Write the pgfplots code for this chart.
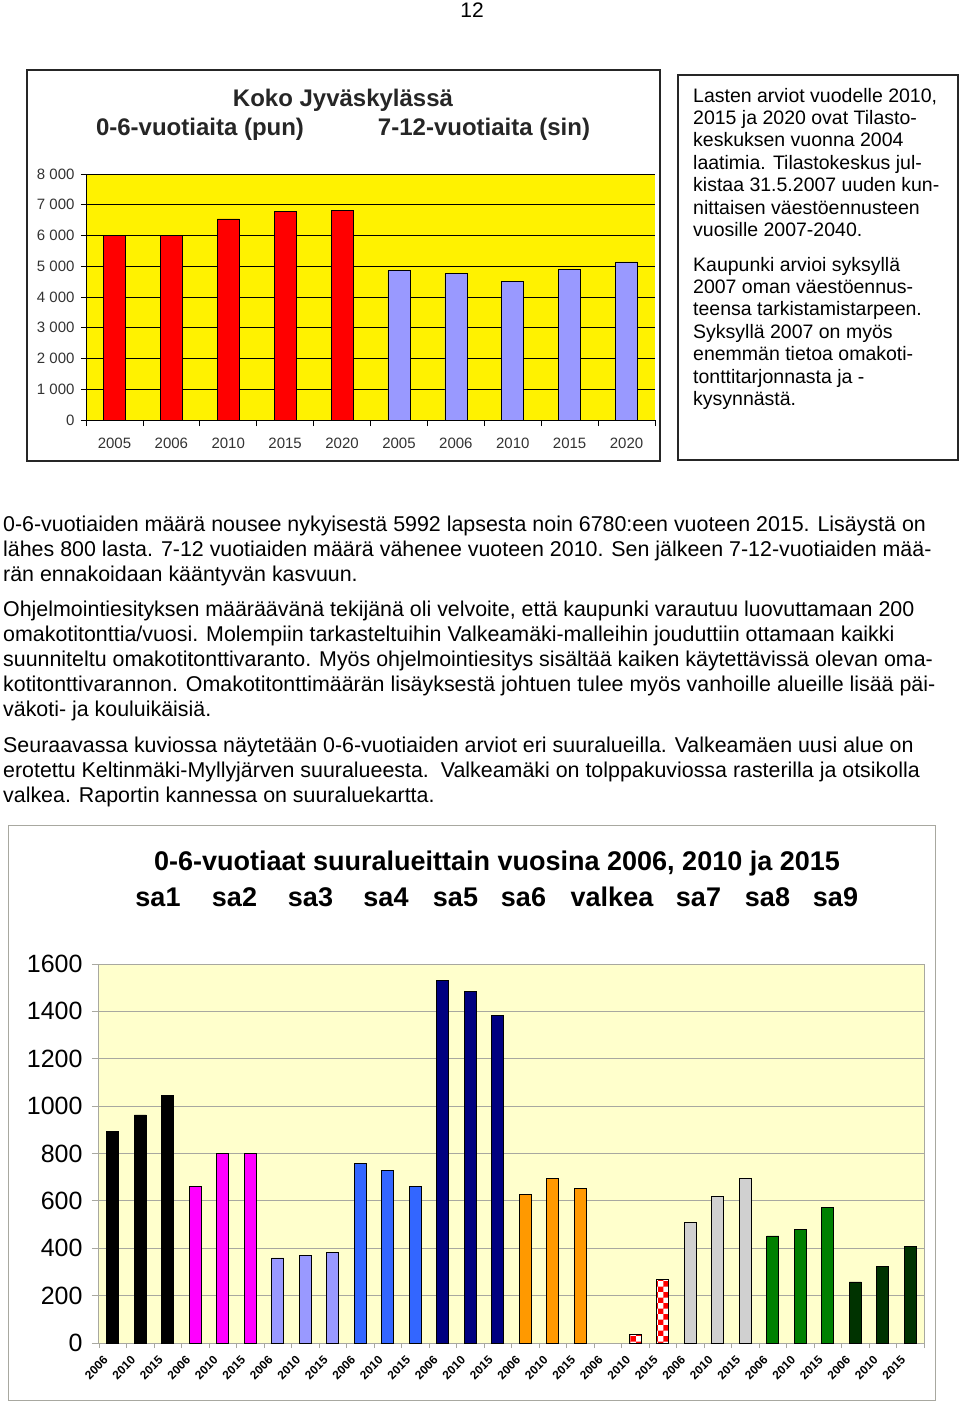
\documentclass[border=0pt]{standalone}
\usepackage{fontspec}
\setmainfont{Liberation Sans}
\usepackage{pgfplots}
\pgfplotsset{compat=1.18}
\usetikzlibrary{patterns}
\definecolor{sinblue}{HTML}{9999FF}
\definecolor{ltyellow}{HTML}{FFFFCC}
\definecolor{cA}{HTML}{000000}
\definecolor{cB}{HTML}{FF00FF}
\definecolor{cC}{HTML}{9999FF}
\definecolor{cD}{HTML}{3366FF}
\definecolor{cE}{HTML}{000080}
\definecolor{cF}{HTML}{FF9900}
\definecolor{cH}{HTML}{D0D0D0}
\definecolor{cI}{HTML}{008000}
\definecolor{cJ}{HTML}{003300}
\definecolor{gridgray}{HTML}{A8A8A0}
\begin{document}
\begin{tikzpicture}
\path[use as bounding box, fill=white] (0pt,0pt) rectangle (960pt,-1403pt);
% page number
\node[font=\fontsize{21}{24}\selectfont, anchor=base] at (472pt,-17pt) {12};

% ---------- upper-left chart ----------
\draw[line width=1.5pt, black!85] (27pt,-70pt) rectangle (660pt,-461pt);
\node[font=\bfseries\fontsize{24}{26}\selectfont, text=black!85, anchor=base] at (343pt,-106pt) {Koko Jyväskylässä};
\node[font=\bfseries\fontsize{24}{26}\selectfont, text=black!85, anchor=base] at (200pt,-135pt) {0-6-vuotiaita (pun)};
\node[font=\bfseries\fontsize{24}{26}\selectfont, text=black!85, anchor=base] at (484pt,-135pt) {7-12-vuotiaita (sin)};
\begin{axis}[
  at={(86pt,-420pt)}, anchor=south west,
  scale only axis, width=569pt, height=246pt,
  xmin=-0.5, xmax=9.5, ymin=0, ymax=8000,
  axis background/.style={fill=yellow},
  axis x line*=bottom, axis y line*=left,
  axis line style={black, line width=0.8pt},
  ytick={0,1000,...,8000},
  yticklabels={0,1 000,2 000,3 000,4 000,5 000,6 000,7 000,8 000},
  ymajorgrids, grid style={black, line width=0.8pt},
  xtick={0,...,9},
  xticklabels={2005,2006,2010,2015,2020,2005,2006,2010,2015,2020},
  minor xtick={-0.5,0.5,...,9.5},
  tick align=outside,
  major tick length=5pt, minor tick length=6pt,
  major x tick style={draw=none},
  minor x tick style={black, line width=0.8pt},
  y tick style={black, line width=0.8pt},
  ticklabel style={font=\fontsize{15}{15}\selectfont, text=black!80},
  xticklabel style={yshift=-9pt},
  yticklabel style={xshift=-3pt},
  /pgf/number format/assume math mode=true,
]
\addplot[ybar, bar width=22pt, bar shift=0pt, fill=red, draw=black, line width=0.7pt]
  coordinates {(0,5992)(1,6000)(2,6540)(3,6780)(4,6810)};
\addplot[ybar, bar width=22pt, bar shift=0pt, fill=sinblue, draw=black, line width=0.7pt]
  coordinates {(5,4860)(6,4770)(7,4520)(8,4900)(9,5140)};
\end{axis}

% ---------- upper-right text box ----------
\draw[line width=1.3pt, black!85] (678pt,-75pt) rectangle (958pt,-460pt);
\begin{scope}[every node/.style={anchor=base west, inner sep=0pt, font=\fontsize{19.5}{22}\selectfont}]
\node at (693pt,-102pt) {Lasten arviot vuodelle 2010,};
\node at (693pt,-124pt) {2015 ja 2020 ovat Tilasto-};
\node at (693pt,-146pt) {keskuksen vuonna 2004};
\node at (693pt,-169pt) {laatimia. Tilastokeskus jul-};
\node at (693pt,-191pt) {kistaa 31.5.2007 uuden kun-};
\node at (693pt,-214pt) {nittaisen väestöennusteen};
\node at (693pt,-236pt) {vuosille 2007-2040.};
\node at (693pt,-271pt) {Kaupunki arvioi syksyllä};
\node at (693pt,-293pt) {2007 oman väestöennus-};
\node at (693pt,-315pt) {teensa tarkistamistarpeen.};
\node at (693pt,-338pt) {Syksyllä 2007 on myös};
\node at (693pt,-360pt) {enemmän tietoa omakoti-};
\node at (693pt,-383pt) {tonttitarjonnasta ja -};
\node at (693pt,-405pt) {kysynnästä.};
\end{scope}

% ---------- body text ----------
\begin{scope}[every node/.style={anchor=base west, inner sep=0pt, font=\fontsize{21.4}{25}\selectfont}]
\node at (3pt,-531pt) {0-6-vuotiaiden määrä nousee nykyisestä 5992 lapsesta noin 6780:een vuoteen 2015. Lisäystä on};
\node at (3pt,-556pt) {lähes 800 lasta. 7-12 vuotiaiden määrä vähenee vuoteen 2010. Sen jälkeen 7-12-vuotiaiden mää-};
\node at (3pt,-581pt) {rän ennakoidaan kääntyvän kasvuun.};
\node at (3pt,-616pt) {Ohjelmointiesityksen määräävänä tekijänä oli velvoite, että kaupunki varautuu luovuttamaan 200};
\node at (3pt,-641pt) {omakotitonttia/vuosi. Molempiin tarkasteltuihin Valkeamäki-malleihin jouduttiin ottamaan kaikki};
\node at (3pt,-666pt) {suunniteltu omakotitonttivaranto. Myös ohjelmointiesitys sisältää kaiken käytettävissä olevan oma-};
\node at (3pt,-691pt) {kotitonttivarannon. Omakotitonttimäärän lisäyksestä johtuen tulee myös vanhoille alueille lisää päi-};
\node at (3pt,-716pt) {väkoti- ja kouluikäisiä.};
\node at (3pt,-752pt) {Seuraavassa kuviossa näytetään 0-6-vuotiaiden arviot eri suuralueilla. Valkeamäen uusi alue on};
\node at (3pt,-777pt) {erotettu Keltinmäki-Myllyjärven suuralueesta.\ \ Valkeamäki on tolppakuviossa rasterilla ja otsikolla};
\node at (3pt,-802pt) {valkea. Raportin kannessa on suuraluekartta.};
\end{scope}

% ---------- lower chart ----------
\draw[gridgray, line width=1pt] (8pt,-825pt) rectangle (935pt,-1400pt);
\node[font=\bfseries\fontsize{27}{30}\selectfont, anchor=base] at (497pt,-870pt) {0-6-vuotiaat suuralueittain vuosina 2006, 2010 ja 2015};
\begin{scope}[every node/.style={anchor=base, font=\bfseries\fontsize{27}{30}\selectfont}]
\node at (158pt,-906pt) {sa1};
\node at (234.5pt,-906pt) {sa2};
\node at (310.5pt,-906pt) {sa3};
\node at (386pt,-906pt) {sa4};
\node at (455.5pt,-906pt) {sa5};
\node at (523.5pt,-906pt) {sa6};
\node at (612pt,-906pt) {valkea};
\node at (698.5pt,-906pt) {sa7};
\node at (767.5pt,-906pt) {sa8};
\node at (835.5pt,-906pt) {sa9};
\end{scope}
\begin{axis}[
  at={(99pt,-1343pt)}, anchor=south west,
  scale only axis, width=825pt, height=379pt,
  xmin=-0.5, xmax=29.5, ymin=0, ymax=1600,
  axis background/.style={fill=ltyellow},
  axis line style={gridgray, line width=1pt},
  ytick={0,200,...,1600},
  ymajorgrids, grid style={gridgray, line width=0.9pt},
  xtick={0,...,29},
  xticklabels={2006,2010,2015,2006,2010,2015,2006,2010,2015,2006,2010,2015,2006,2010,2015,2006,2010,2015,2006,2010,2015,2006,2010,2015,2006,2010,2015,2006,2010,2015},
  minor xtick={-0.5,0.5,...,29.5},
  tick align=outside, tick pos=left,
  major tick length=7pt, minor tick length=5pt,
  major x tick style={draw=none},
  minor x tick style={gridgray, line width=0.8pt},
  y tick style={gridgray, line width=0.8pt},
  yticklabel style={font=\fontsize{25}{25}\selectfont, xshift=-6pt},
  xticklabel style={font=\bfseries\fontsize{12}{12}\selectfont, xshift=-10pt, yshift=-5pt, rotate=45, anchor=north east, inner sep=0pt},
  /pgf/number format/assume math mode=true,
  /pgf/number format/1000 sep={},
  every axis plot/.append style={ybar, bar width=12pt, bar shift=0pt, draw=black, line width=0.8pt},
]
\addplot[fill=cA] coordinates {(0,892)(1,963)(2,1045)};
\addplot[fill=cB] coordinates {(3,660)(4,801)(5,801)};
\addplot[fill=cC] coordinates {(6,359)(7,371)(8,382)};
\addplot[fill=cD] coordinates {(9,758)(10,730)(11,660)};
\addplot[fill=cE] coordinates {(12,1531)(13,1483)(14,1382)};
\addplot[fill=cF] coordinates {(15,629)(16,694)(17,651)};
\addplot[fill=white, postaction={pattern=checkerboard, pattern color=red}] coordinates {(19,37)(20,269)};
\addplot[fill=cH] coordinates {(21,510)(22,617)(23,694)};
\addplot[fill=cI] coordinates {(24,452)(25,478)(26,571)};
\addplot[fill=cJ] coordinates {(27,258)(28,323)(29,409)};
\end{axis}
\end{tikzpicture}
\end{document}
